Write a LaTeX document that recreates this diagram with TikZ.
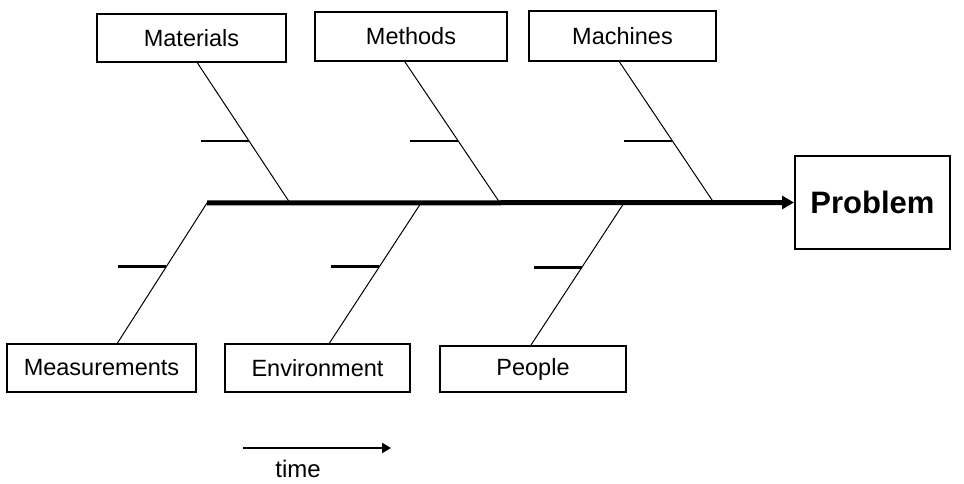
\documentclass[tikz,border=0pt]{standalone}
\usepackage{fontspec}
\setmainfont{Liberation Sans}
\usetikzlibrary{calc,arrows.meta}
\begin{document}
\begin{tikzpicture}[x=1pt,y=-1pt,
  cause/.style={draw=black,line width=2pt,inner sep=0pt,font=\fontsize{23.5}{27}\selectfont},
  bone/.style={draw=black,line width=1pt},
  tick/.style={draw=black,line width=2.2pt},
  spine/.style={draw=black,line width=5pt,-{Triangle[length=12pt,width=13pt]}}]
\useasboundingbox (0,0) rectangle (964,484);
% cause boxes
\node[cause,minimum width=189pt,minimum height=48pt] (mat) at (191.5,38) {Materials};
\node[cause,minimum width=192pt,minimum height=49pt] (met) at (411,36.5) {Methods};
\node[cause,minimum width=187pt,minimum height=50pt] (mac) at (622.5,36) {Machines};
\node[cause,minimum width=189pt,minimum height=48pt] (mea) at (101.5,368) {Measurements};
\node[cause,minimum width=185pt,minimum height=48pt] (env) at (317.5,368) {Environment};
\node[cause,minimum width=186pt,minimum height=46pt] (peo) at (533,369) {People};
% effect
\node[draw=black,line width=2pt,minimum width=155pt,minimum height=93pt,inner sep=0pt,
  font=\fontsize{31}{35}\selectfont\bfseries] (prob) at (872.5,202.5) {Problem};
% spine
\coordinate (tail) at (207,203);
\draw[spine] (tail) -- (prob.west);
% junctions on spine
\coordinate (j1) at (290,203);
\coordinate (j2) at (500,203);
\coordinate (j3) at (714,203);
\coordinate (j4) at (421,203);
\coordinate (j5) at (624,203);
% upper bones
\coordinate (u1) at ([xshift=6pt]mat.south);
\coordinate (u2) at ([xshift=-6pt]met.south);
\coordinate (u3) at ([xshift=-3pt]mac.south);
\draw[bone] (u1) -- (j1);
\draw[bone] (u2) -- (j2);
\draw[bone] (u3) -- (j3);
\coordinate (t1) at ($(u1)!0.56!(j1)$);
\coordinate (t2) at ($(u2)!0.56!(j2)$);
\coordinate (t3) at ($(u3)!0.56!(j3)$);
\draw[tick] (t1) -- ++(-48,0);
\draw[tick] (t2) -- ++(-48,0);
\draw[tick] (t3) -- ++(-48,0);
% lower bones
\coordinate (l1) at ([xshift=16pt]mea.north);
\coordinate (l2) at ([xshift=12pt]env.north);
\coordinate (l3) at ([xshift=-2pt]peo.north);
\draw[bone] (tail) -- (l1);
\draw[bone] (j4) -- (l2);
\draw[bone] (j5) -- (l3);
\coordinate (b1) at ($(tail)!0.454!(l1)$);
\coordinate (b2) at ($(j4)!0.454!(l2)$);
\coordinate (b3) at ($(j5)!0.454!(l3)$);
\draw[tick] (b1) -- ++(-48,0);
\draw[tick] (b2) -- ++(-48,0);
\draw[tick] (b3) -- ++(-48,0);
% time arrow
\coordinate (ts) at (243,448);
\coordinate (te) at (391,448);
\draw[line width=2pt,-{Triangle[length=9pt,width=10pt]}] (ts) -- (te);
\node[font=\fontsize{24}{28}\selectfont] (time) at (298,469) {time};
\end{tikzpicture}
\end{document}
